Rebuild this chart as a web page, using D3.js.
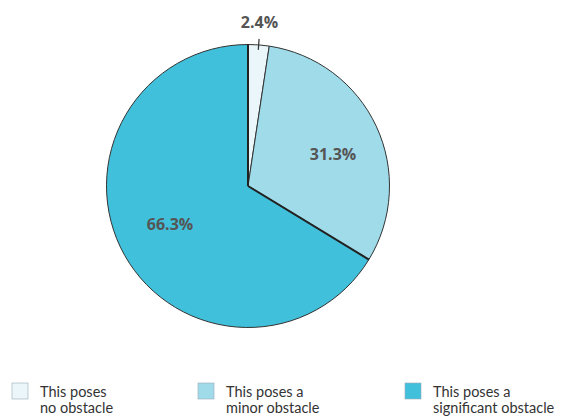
<!DOCTYPE html>
<html>
<head>
<meta charset="utf-8">
<script src="https://cdn.jsdelivr.net/npm/d3@7/dist/d3.min.js"></script>
<style>
  html, body { margin: 0; padding: 0; background: #fff; }
  svg { display: block; }
</style>
</head>
<body>
<svg id="chart" width="564" height="417"></svg>
<script>
// Share of respondents per answer
const categories = ["This poses no obstacle", "This poses a minor obstacle", "This poses a significant obstacle"];
const legendLines = [["This poses", "no obstacle"], ["This poses a", "minor obstacle"], ["This poses a", "significant obstacle"]];
const values = [2.4, 31.3, 66.3];
const colors = ["#eaf6f9", "#a0dbea", "#40c0da"];

const svg = d3.select("#chart");
const cx = 248, cy = 186, r = 141.5;
const font = "'Open Sans', 'Noto Sans', sans-serif";
const legendFont = "Lato, 'Open Sans', sans-serif";

const pie = d3.pie().sort(null).value(d => d)(values);
const arc = d3.arc().innerRadius(0).outerRadius(r);

const g = svg.append("g").attr("transform", `translate(${cx},${cy})`);

g.selectAll("path.slice")
  .data(pie)
  .join("path")
  .attr("class", "slice")
  .attr("d", arc)
  .attr("fill", (d, i) => colors[i])
  .attr("stroke", "#333")
  .attr("stroke-width", 1)
  .attr("stroke-linejoin", "round");

// Darker radial edges of the large slice
const big = pie[2];
[big.startAngle, big.endAngle].forEach(a => {
  g.append("line")
    .attr("x1", 0).attr("y1", 0)
    .attr("x2", r * Math.sin(a)).attr("y2", -r * Math.cos(a))
    .attr("stroke", "#222").attr("stroke-width", 2);
});

// Labels
const labelPos = [null, [85, -30], [-78, 40]];
pie.forEach((d, i) => {
  const txt = values[i].toFixed(1) + "%";
  if (i === 0) {
    const a = (d.startAngle + d.endAngle) / 2;
    const sx = Math.sin(a), sy = -Math.cos(a);
    g.append("line")
      .attr("x1", sx * (r - 5)).attr("y1", sy * (r - 5))
      .attr("x2", sx * (r + 6)).attr("y2", sy * (r + 6))
      .attr("stroke", "#333").attr("stroke-width", 1.2);
    g.append("text")
      .attr("x", sx * (r + 10)).attr("y", sy * (r + 10) - 7)
      .attr("text-anchor", "middle")
      .attr("font-family", font).attr("font-weight", "bold")
      .attr("font-size", 16).attr("fill", "#555")
      .text(txt);
  } else {
    g.append("text")
      .attr("x", labelPos[i][0]).attr("y", labelPos[i][1])
      .attr("text-anchor", "middle").attr("dominant-baseline", "middle")
      .attr("font-family", font).attr("font-weight", "bold")
      .attr("font-size", 16).attr("fill", "#555")
      .text(txt);
  }
});

// Legend
const legendX = [12, 198, 405];
const legend = svg.selectAll("g.legend")
  .data(categories)
  .join("g")
  .attr("class", "legend")
  .attr("transform", (d, i) => `translate(${legendX[i]},383)`);

legend.append("rect")
  .attr("width", 16).attr("height", 16)
  .attr("fill", (d, i) => colors[i])
  .attr("stroke", "#9ab")
  .attr("stroke-width", 0.6);

legend.each(function(d, i) {
  const grp = d3.select(this);
  legendLines[i].forEach((line, j) => {
    grp.append("text")
      .attr("x", 28).attr("y", 14 + j * 16)
      .attr("font-family", legendFont).attr("font-size", 14.5).attr("fill", "#333")
      .text(line);
  });
});
</script>
</body>
</html>
